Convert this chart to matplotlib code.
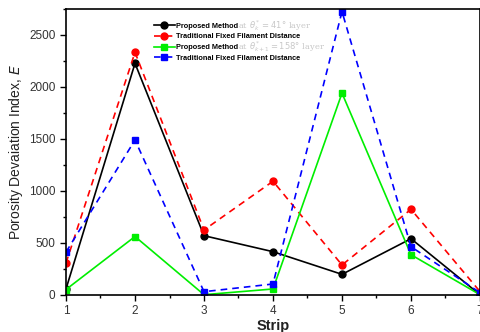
import matplotlib
matplotlib.use("Agg")
import matplotlib.pyplot as plt
from matplotlib.ticker import MultipleLocator

strips = [1, 2, 3, 4, 5, 6, 7]
proposed_k = [55, 2227, 568, 414, 196, 539, 0]
trad_k = [305, 2333, 623, 1092, 286, 822, 30]
proposed_k1 = [50, 560, 0, 55, 1940, 385, 0]
trad_k1 = [410, 1489, 29, 103, 2725, 462, 20]

labels = ["Proposed Method", "Traditional Fixed Filament Distance",
          "Proposed Method", "Traditional Fixed Filament Distance"]

plt.rcParams['font.family'] = ['Liberation Sans', 'DejaVu Sans']

fig = plt.figure(figsize=(4.81, 3.32), dpi=100)
ax = fig.add_axes([66/481, (332-294.7)/332, (480-66)/481, (294.7-9)/332])

ax.plot(strips, proposed_k, '-', color='black', lw=1.2, marker='o', ms=5, label=labels[0])
ax.plot(strips, trad_k, '--', color='red', lw=1.2, marker='o', ms=5, dashes=(4, 3), label=labels[1])
ax.plot(strips, proposed_k1, '-', color='#00ee00', lw=1.2, marker='s', ms=5, label=labels[2])
ax.plot(strips, trad_k1, '--', color='blue', lw=1.2, marker='s', ms=5, dashes=(4, 3), label=labels[3])

ax.set_xlim(1, 7)
ax.set_ylim(0, 2750)
ax.xaxis.set_major_locator(MultipleLocator(1))
ax.xaxis.set_minor_locator(MultipleLocator(0.5))
ax.yaxis.set_major_locator(MultipleLocator(500))
ax.yaxis.set_minor_locator(MultipleLocator(250))
ax.tick_params(which='major', direction='out', length=4, width=1, labelsize=8.5, labelcolor='#333333')
ax.tick_params(which='minor', direction='out', length=2.5, width=1)
for s in ax.spines.values():
    s.set_linewidth(1.2)

ax.set_xlabel('Strip', fontsize=10.5, fontweight='bold', color='#222222', labelpad=1)
ax.set_ylabel(r'Porosity Devaiation Index, $\mathit{E}$', fontsize=10, color='#222222', labelpad=3)

leg = ax.legend(loc='upper left', bbox_to_anchor=(151/481, 1 - 19.5/332),
                bbox_transform=fig.transFigure, frameon=False,
                prop={'size': 5.3, 'weight': 'bold'}, handlelength=2.8,
                handletextpad=0.15, labelspacing=0.49, borderaxespad=0)

fig.text(238/481, 1 - 26/332, r'at $\theta_k^* = 41°$ layer', color='#c8c8c8',
         fontsize=6, family='DejaVu Serif', va='center')
fig.text(238/481, 1 - 47/332, r'at $\theta_{k+1}^* = 158°$ layer', color='#c8c8c8',
         fontsize=6, family='DejaVu Serif', va='center')

fig.savefig('out.png', dpi=100)
